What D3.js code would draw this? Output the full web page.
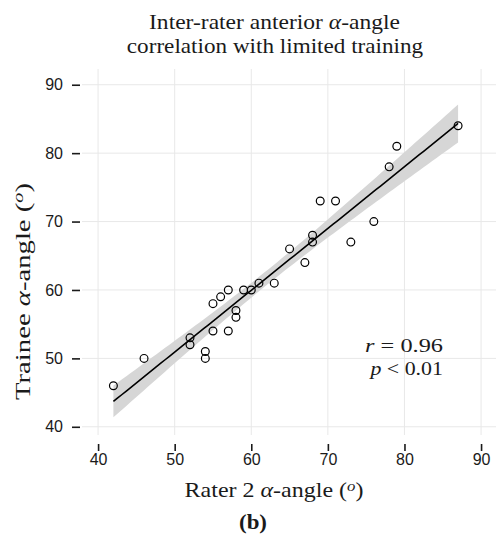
<!DOCTYPE html>
<html lang="en">
<head>
<meta charset="UTF-8">
<title>Inter-rater anterior alpha-angle</title>
<script src="https://d3js.org/d3.v7.min.js"></script>
<style>
  body { margin: 0; background: #ffffff; }
  svg { display: block; }
  .serif { font-family: 'Liberation Serif', 'DejaVu Serif', serif; fill: #1a1a1a; }
  .tick text { font-family: 'Liberation Sans', Arial, sans-serif; }
</style>
</head>
<body>
<svg width="496" height="537"></svg>
<script>
// rater 2 angle vs trainee angle
const rater2  = [42, 46, 52, 52, 54, 54, 55, 55, 56, 57, 57, 58, 58, 59, 60, 61, 63, 65, 67, 68, 68, 69, 71, 73, 76, 78, 79, 87];
const trainee = [46, 50, 53, 52, 51, 50, 54, 58, 59, 60, 54, 57, 56, 60, 60, 61, 61, 66, 64, 68, 67, 73, 73, 67, 70, 78, 81, 84];
const xTicks = [40, 50, 60, 70, 80, 90];
const yTicks = [40, 50, 60, 70, 80, 90];
const statLines = [["r", " = 0.96"], ["p", " < 0.01"]];

const svg = d3.select("svg");

// panel area
const pLeft = 82, pRight = 496, pTop = 69, pBottom = 435;

const x = d3.scaleLinear().domain([37.9, 91.95]).range([pLeft, pRight]);
const y = d3.scaleLinear().domain([38.8, 92.3]).range([pBottom, pTop]);

// grid
svg.append("g").selectAll("line").data(xTicks).join("line")
  .attr("x1", d => x(d)).attr("x2", d => x(d))
  .attr("y1", pTop).attr("y2", pBottom)
  .attr("stroke", "#e8e8e8").attr("stroke-width", 1);
svg.append("g").selectAll("line").data(yTicks).join("line")
  .attr("y1", d => y(d)).attr("y2", d => y(d))
  .attr("x1", pLeft).attr("x2", pRight)
  .attr("stroke", "#e8e8e8").attr("stroke-width", 1);

// linear fit + 95% confidence band (like geom_smooth(method = "lm"))
const n = rater2.length;
const mx = d3.mean(rater2), my = d3.mean(trainee);
let sxx = 0, sxy = 0;
for (let i = 0; i < n; i++) {
  sxx += (rater2[i] - mx) ** 2;
  sxy += (rater2[i] - mx) * (trainee[i] - my);
}
const slope = sxy / sxx, icept = my - slope * mx;
let sse = 0;
for (let i = 0; i < n; i++) sse += (trainee[i] - icept - slope * rater2[i]) ** 2;
const se = Math.sqrt(sse / (n - 2));
const tq = 2.056; // t(0.975, 26)

const [xmin, xmax] = d3.extent(rater2);
const fit = d3.range(0, 81).map(k => {
  const xv = xmin + (xmax - xmin) * k / 80;
  const yv = icept + slope * xv;
  const h = tq * se * Math.sqrt(1 / n + (xv - mx) ** 2 / sxx);
  return { x: xv, y: yv, lo: yv - h, hi: yv + h };
});

svg.append("path").datum(fit)
  .attr("fill", "#d6d6d6")
  .attr("d", d3.area().x(d => x(d.x)).y0(d => y(d.lo)).y1(d => y(d.hi)));
svg.append("path").datum(fit)
  .attr("fill", "none").attr("stroke", "#000").attr("stroke-width", 1.6)
  .attr("d", d3.line().x(d => x(d.x)).y(d => y(d.y)));

// points
svg.append("g").selectAll("circle").data(rater2).join("circle")
  .attr("cx", d => x(d))
  .attr("cy", (d, i) => y(trainee[i]))
  .attr("r", 3.9)
  .attr("fill", "none").attr("stroke", "#000").attr("stroke-width", 1.2);

// axes: ticks only, no domain line
const xAxis = svg.append("g").attr("transform", `translate(0,${pBottom + 9})`)
  .call(d3.axisBottom(x).tickValues(xTicks).tickSize(7).tickPadding(3));
const yAxis = svg.append("g").attr("transform", `translate(${pLeft - 2},0)`)
  .call(d3.axisLeft(y).tickValues(yTicks).tickSize(8).tickPadding(9));
[xAxis, yAxis].forEach(g => {
  g.select(".domain").remove();
  g.selectAll(".tick line").attr("stroke", "#1a1a1a").attr("stroke-width", 1.6);
  g.selectAll(".tick text").attr("font-size", 16).attr("fill", "#1a1a1a");
});

// LaTeX-style text is wider than Times: stretch each label to its width
function label(size, anchor, tx, ty, width, rot) {
  const t = svg.append("text").attr("class", "serif")
    .attr("font-size", size).attr("text-anchor", anchor);
  t.place = () => {
    const w = t.node().getBBox().width;
    t.attr("transform", `translate(${tx},${ty})` + (rot ? ` rotate(${rot})` : "") + ` scale(${width / w},1)`);
    return t;
  };
  return t;
}

// "... α-angle (°)"
function angleLabel(sel, prefix) {
  sel.append("tspan").text(prefix);
  sel.append("tspan").attr("font-style", "italic").text("α");
  sel.append("tspan").text("-angle (");
  sel.append("tspan").attr("font-style", "italic").attr("font-size", "0.7em").attr("dy", "-0.45em").text("o");
  sel.append("tspan").attr("dy", "0.32em").text(")");
}

// title
const t1 = label(21, "middle", 274.5, 28.5, 251);
t1.append("tspan").text("Inter-rater anterior ");
t1.append("tspan").attr("font-style", "italic").text("α");
t1.append("tspan").text("-angle");
t1.place();
label(21, "middle", 275, 52.5, 297).text("correlation with limited training").place();

// axis titles
label(20, "middle", 274, 497, 179).call(angleLabel, "Rater 2 ").place();
label(21, "middle", 30, 291.5, 217, -90).call(angleLabel, "Trainee ").place();

// stats
const statW = [78, 75];
statLines.forEach((d, i) => {
  const t = label(18.5, "end", 443, 352 + i * 22.5, statW[i]);
  t.append("tspan").attr("font-style", "italic").text(d[0]);
  t.append("tspan").text(d[1]);
  t.place();
});

// sub caption
label(20, "middle", 253, 529, 28).attr("font-weight", "bold").text("(b)").place();
</script>
</body>
</html>
